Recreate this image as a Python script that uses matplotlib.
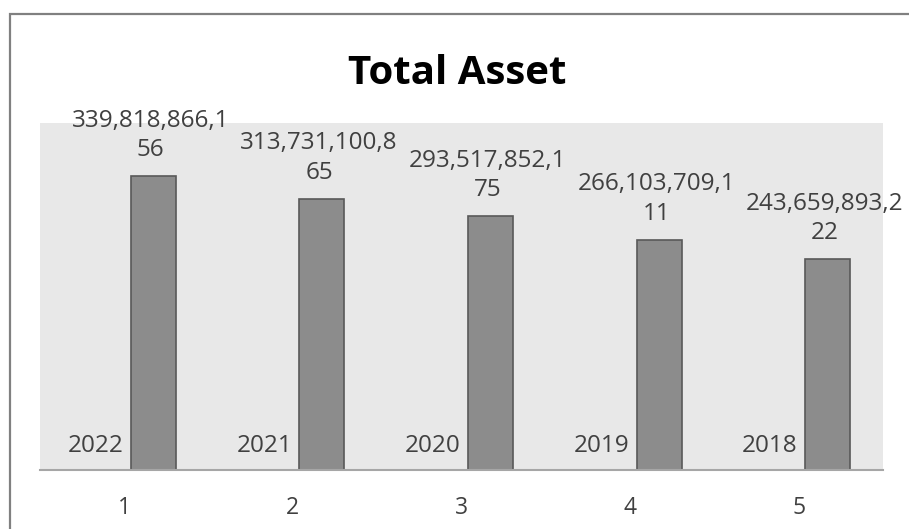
import matplotlib
matplotlib.use("Agg")
import matplotlib.pyplot as plt
from matplotlib.patches import Rectangle

# ---- data ----
categories = [1, 2, 3, 4, 5]
years = [2022, 2021, 2020, 2019, 2018]
total_assets = [339818866156, 313731100865, 293517852175, 266103709111, 243659893222]
title = "Total Asset"

plt.rcParams['font.family'] = ['Open Sans', 'DejaVu Sans']
text_color = '#404040'

W, H = 909, 529
fig = plt.figure(figsize=(W / 100, H / 100), dpi=100)

# outer chart border
fig.patches.append(Rectangle((10 / W, -0.1), 1.2, (H - 14) / H + 0.1,
                             transform=fig.transFigure, fill=False,
                             edgecolor='#808080', linewidth=1.6))

ax = fig.add_axes([40 / W, (H - 470) / H, (883 - 40) / W, (470 - 123) / H])
ax.set_facecolor('#E8E8E8')
for s in ['top', 'right', 'left']:
    ax.spines[s].set_visible(False)
ax.spines['bottom'].set_color('#A6A6A6')
ax.spines['bottom'].set_linewidth(1.5)

x = list(range(len(categories)))
bw = 0.266
off = 0.172

# year series (tiny, effectively invisible bars)
ax.bar([i - off for i in x], years, width=bw, color='#8C8C8C', linewidth=0)
# total asset series
bars = ax.bar([i + off for i in x], total_assets, width=bw, color='#8C8C8C',
              edgecolor='#595959', linewidth=1.2)

ax.set_xlim(-0.5, len(categories) - 0.5)
ax.set_ylim(0, 401e9)
ax.set_yticks([])
ax.set_xticks(x)
ax.set_xticklabels([str(c) for c in categories], fontsize=16.5, color=text_color)
ax.tick_params(axis='x', length=0, pad=19)

def wrap_label(v, n=13):
    s = f"{v:,}"
    return s[:n] + "\n" + s[n:]

for b, v in zip(bars, total_assets):
    ax.annotate(wrap_label(v), (b.get_x() + b.get_width() / 2, v),
                xytext=(-2, 10), textcoords='offset points',
                ha='center', va='bottom', fontsize=17.5, color=text_color,
                linespacing=1.3, annotation_clip=False)

for i, yv in zip(x, years):
    ax.annotate(str(yv), (i - 0.005, 0), xytext=(0, 9), textcoords='offset points',
                ha='right', va='bottom', fontsize=17.5, color=text_color)

fig.text(457 / W, 1 - 74 / H, title, ha='center', va='center',
         fontsize=29, fontweight='bold', color='black')

fig.savefig('out.png', dpi=100)
